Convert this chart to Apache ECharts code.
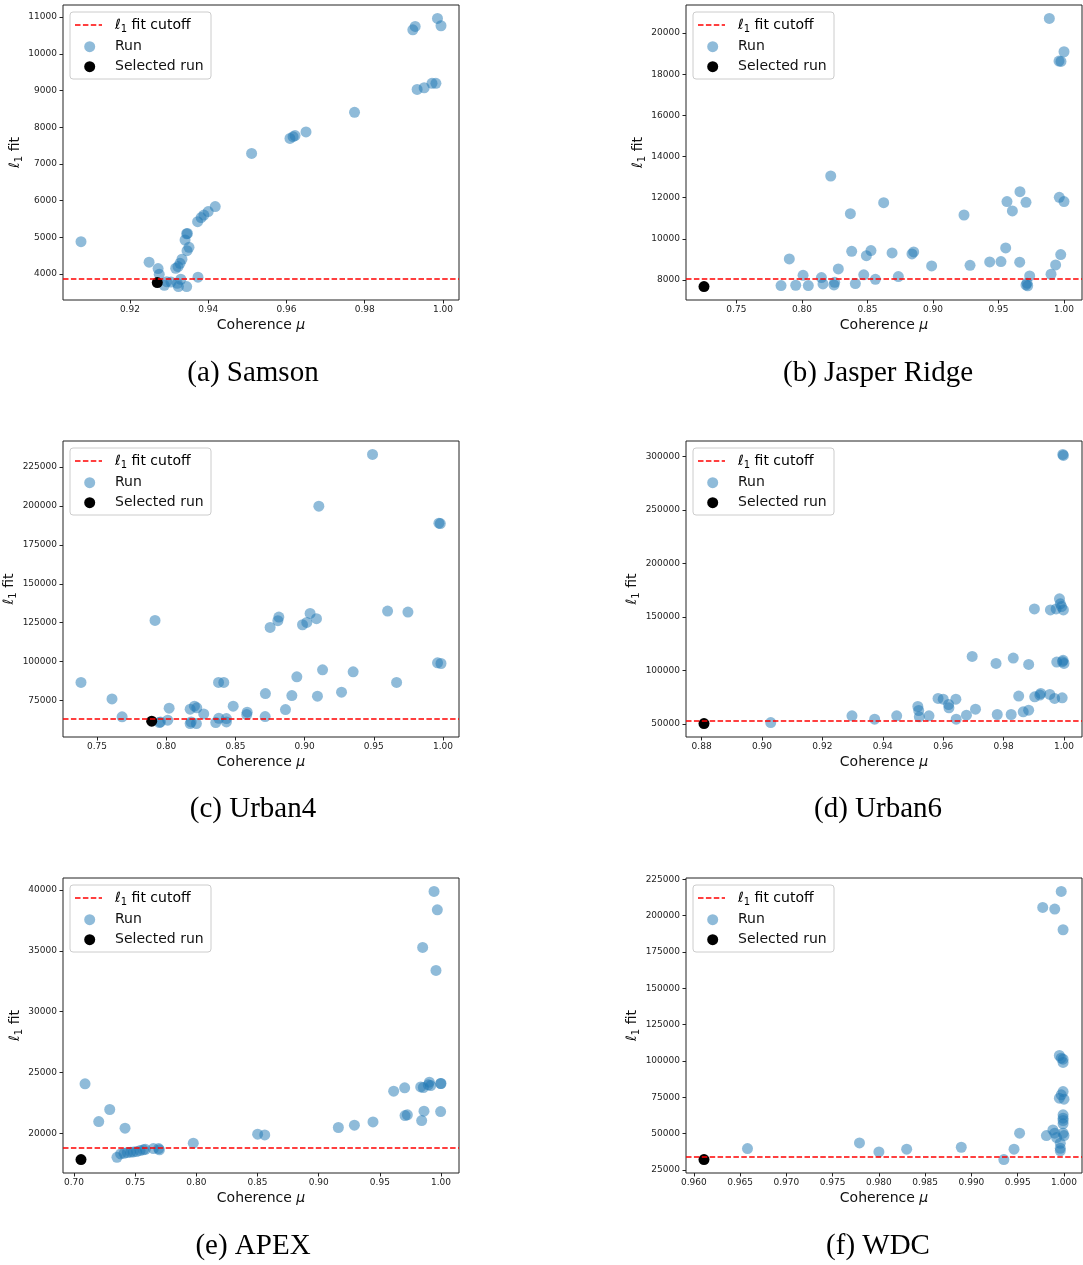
<!DOCTYPE html>
<html><head><meta charset="utf-8">
<script src="https://cdn.jsdelivr.net/npm/echarts@6/dist/echarts.min.js"></script>
<style>html,body{margin:0;padding:0;background:#fff}#c{width:1083px;height:1265px}</style>
</head><body><div id="c"></div>
<script>
// ---------------- DATA ----------------
const panelTitles = ['(a) Samson', '(b) Jasper Ridge', '(c) Urban4', '(d) Urban6', '(e) APEX', '(f) WDC'];

const samsonCoherence = [0.9075,0.9249,0.9272,0.9275,0.9288,0.9294,0.9305,0.9321,0.9324,0.9330,0.9345,0.9374,0.9317,0.9323,0.9328,0.9333,0.9341,0.9347,0.9345,0.9346,0.9351,0.9373,0.9382,0.9389,0.9400,0.9418,0.9511,0.9609,0.9617,0.9622,0.9650,0.9774,0.9923,0.9929,0.9934,0.9952,0.9972,0.9982,0.9986,0.9995];
const samsonFit = [4880,4320,4145,3990,3690,3790,3780,3745,3655,3855,3655,3910,4155,4200,4290,4400,4925,5105,5095,4635,4725,5425,5535,5605,5700,5835,7285,7695,7740,7770,7870,8405,10655,10745,9030,9075,9195,9195,10965,10765];
const samsonSelected = [0.9270, 3765];
const samsonCutoff = 3860;
const samsonXTicks = [0.92,0.94,0.96,0.98,1.00];
const samsonYTicks = [4000,5000,6000,7000,8000,9000,10000,11000];

const jasperCoherence = [0.7841,0.7904,0.7953,0.8009,0.8049,0.8149,0.8161,0.8220,0.8245,0.8250,0.8278,0.8370,0.8380,0.8408,0.8472,0.8492,0.8527,0.8561,0.8624,0.8688,0.8736,0.8840,0.8853,0.8990,0.9237,0.9283,0.9433,0.9519,0.9555,0.9565,0.9606,0.9664,0.9662,0.9710,0.9710,0.9723,0.9718,0.9738,0.9888,0.9901,0.9936,0.9962,0.9977,0.9964,0.9975,1.0000,1.0000];
const jasperFit = [7725,9020,7740,8225,7725,8115,7805,13050,7755,7885,8535,11220,9390,7820,8245,9180,9425,8030,11755,9310,8160,9265,9360,8680,11155,8710,8875,8890,9555,11805,11350,12290,8860,11770,7755,7710,7840,8195,20710,8275,8730,18635,18620,12015,9230,19090,11805];
const jasperSelected = [0.7253, 7675];
const jasperCutoff = 8080;
const jasperXTicks = [0.75,0.80,0.85,0.90,0.95,1.00];
const jasperYTicks = [8000,10000,12000,14000,16000,18000,20000];

const urban4Coherence = [0.7384,0.7608,0.7681,0.7919,0.7951,0.7958,0.8011,0.8021,0.8173,0.8180,0.8173,0.8204,0.8221,0.8218,0.8271,0.8358,0.8380,0.8378,0.8416,0.8435,0.8435,0.8484,0.8582,0.8585,0.8717,0.8715,0.8751,0.8807,0.8814,0.8862,0.8908,0.8944,0.8985,0.9016,0.9040,0.9086,0.9093,0.9103,0.9130,0.9267,0.9351,0.9491,0.9600,0.9665,0.9747,0.9961,0.9986,0.9971,0.9981];
const urban4Fit = [86600,76050,64500,126500,60850,61250,62350,70050,60200,61250,69400,71350,70300,60200,66400,60850,63600,86600,86600,61250,63400,71350,66000,67500,79500,64700,122000,126300,128650,69200,78200,90250,123700,125200,131000,127600,77800,199900,94750,80350,93450,233150,132500,86600,131850,99250,98800,188950,188750];
const urban4Selected = [0.7895, 61700];
const urban4Cutoff = 63200;
const urban4XTicks = [0.75,0.80,0.85,0.90,0.95,1.00];
const urban4YTicks = [75000,100000,125000,150000,175000,200000,225000];

const urban6Coherence = [0.9029,0.9298,0.9373,0.9446,0.9516,0.9519,0.9521,0.9553,0.9583,0.9600,0.9618,0.9619,0.9642,0.9643,0.9677,0.9696,0.9707,0.9775,0.9779,0.9825,0.9832,0.9850,0.9865,0.9883,0.9883,0.9902,0.9903,0.9920,0.9923,0.9953,0.9955,0.9969,0.9974,0.9976,0.9985,0.9988,0.9992,0.9994,0.9995,0.9997,0.9998,0.9996,0.9998,1.0000];
const urban6Fit = [51250,57500,54400,57500,66250,62500,56550,57500,73750,73100,68100,65000,73100,54400,58100,113100,63750,106550,58750,58750,111550,75950,61250,105600,62800,157500,75300,76900,78450,77500,156550,73750,157500,107800,166900,162200,159700,74400,108100,109400,156550,301900,300950,106550];
const urban6Selected = [0.8808, 50300];
const urban6Cutoff = 52800;
const urban6XTicks = [0.88,0.90,0.92,0.94,0.96,0.98,1.00];
const urban6YTicks = [50000,100000,150000,200000,250000,300000];

const apexCoherence = [0.7090,0.7202,0.7292,0.7351,0.7417,0.7381,0.7409,0.7436,0.7463,0.7485,0.7512,0.7540,0.7567,0.7583,0.7649,0.7692,0.7698,0.7975,0.8501,0.8559,0.9161,0.9292,0.9444,0.9613,0.9703,0.9706,0.9725,0.9834,0.9856,0.9842,0.9861,0.9905,0.9896,0.9916,0.9850,0.9943,0.9970,0.9959,0.9997,1.0000,0.9997];
const apexFit = [24060,20960,21950,18020,20410,18300,18350,18410,18440,18460,18490,18570,18630,18680,18740,18740,18630,19180,19920,19860,20470,20660,20930,23460,23730,21450,21510,23810,23760,21040,21810,24200,23980,23920,35280,39890,38380,33390,24090,24090,21780];
const apexSelected = [0.7057, 17830];
const apexCutoff = 18770;
const apexXTicks = [0.70,0.75,0.80,0.85,0.90,0.95,1.00];
const apexYTicks = [20000,25000,30000,35000,40000];

const wdcCoherence = [0.9658,0.9779,0.9800,0.9830,0.9889,0.9935,0.9946,0.9952,0.9977,0.9990,0.9997,0.9999,0.9981,0.9988,0.9990,0.9992,0.9995,0.9997,0.9999,0.9999,0.9995,0.9997,0.9999,1.0000,0.9999,0.9999,0.9999,0.9999,0.9999,1.0000,0.9996,0.9996,0.9996];
const wdcFit = [39700,43600,37400,39250,40600,32100,39250,50250,205700,204550,216700,190300,48650,52550,50250,47250,103750,101900,101250,98950,74350,76650,78950,73700,62900,60600,59000,56700,50250,48650,43350,39900,38100];
const wdcSelected = [0.9611, 32100];
const wdcCutoff = 34200;
const wdcXTicks = [0.960,0.965,0.970,0.975,0.980,0.985,0.990,0.995,1.000];
const wdcYTicks = [25000,50000,75000,100000,125000,150000,175000,200000,225000];

// ---------------- LAYOUT / STYLE ----------------
const colLeft = [63, 686];
const rowTop = [5, 441, 878];
const gridW = 396, gridH = 295;
const captionX = [253, 878];
const captionY = [373, 809, 1246];
const yNameGaps = [40, 39, 44, 45, 39, 45];
const xDecimals = [2, 2, 2, 2, 2, 3];

const datasets = [
  [samsonCoherence, samsonFit, samsonSelected, samsonCutoff, samsonXTicks, samsonYTicks],
  [jasperCoherence, jasperFit, jasperSelected, jasperCutoff, jasperXTicks, jasperYTicks],
  [urban4Coherence, urban4Fit, urban4Selected, urban4Cutoff, urban4XTicks, urban4YTicks],
  [urban6Coherence, urban6Fit, urban6Selected, urban6Cutoff, urban6XTicks, urban6YTicks],
  [apexCoherence, apexFit, apexSelected, apexCutoff, apexXTicks, apexYTicks],
  [wdcCoherence, wdcFit, wdcSelected, wdcCutoff, wdcXTicks, wdcYTicks]
];

const BLUE = '#1f77b4';
const FONT = 'DejaVu Sans';
const TXT = '#111';
// rich styles for the "ℓ1" math label (ℓ italic, subscript 1)
const ellRich = {
  l: {fontSize: 14, fontFamily: FONT, fontStyle: 'italic', color: TXT, lineHeight: 18},
  s: {fontSize: 10, fontFamily: FONT, color: TXT, verticalAlign: 'bottom', lineHeight: 18},
  t: {fontSize: 14, fontFamily: FONT, color: TXT, lineHeight: 18}
};
const ellText = rest => '{l|ℓ}{s|1}{t|' + rest + '}';

const grids = [], xAxes = [], yAxes = [], series = [], graphics = [];

datasets.forEach((d, i) => {
  const [coh, fit, sel, cut, xt, yt] = d;
  const col = i % 2, row = Math.floor(i / 2);
  const gl = colLeft[col], gt = rowTop[row];
  const gh = row === 1 ? gridH + 1 : gridH;
  grids.push({left: gl, top: gt, width: gridW, height: gh, show: true,
    borderColor: '#222', borderWidth: 1, backgroundColor: 'transparent'});
  const xs = coh.concat([sel[0]]), ys = fit.concat([sel[1]]);
  const xmn = Math.min(...xs), xmx = Math.max(...xs);
  const ymn = Math.min(...ys), ymx = Math.max(...ys);
  const xp = 0.05 * (xmx - xmn), yp = 0.05 * (ymx - ymn);
  const dec = xDecimals[i];
  xAxes.push({type: 'value', gridIndex: i, min: xmn - xp, max: xmx + xp,
    axisLine: {show: false}, splitLine: {show: false},
    axisTick: {show: true, length: 3.5, customValues: xt, lineStyle: {color: '#222', width: 1}},
    axisLabel: {show: true, customValues: xt, margin: 5, fontSize: 9, color: '#222', fontFamily: FONT,
      formatter: v => v.toFixed(dec)},
    name: '{a|Coherence }{b|μ}', nameLocation: 'middle', nameGap: 18,
    nameTextStyle: {rich: {a: {fontSize: 14, fontFamily: FONT, color: TXT},
                           b: {fontSize: 14, fontFamily: FONT, fontStyle: 'italic', color: TXT}}}
  });
  yAxes.push({type: 'value', gridIndex: i, min: ymn - yp, max: ymx + yp,
    axisLine: {show: false}, splitLine: {show: false},
    axisTick: {show: true, length: 3.5, customValues: yt, lineStyle: {color: '#222', width: 1}},
    axisLabel: {show: true, customValues: yt, margin: 6, fontSize: 9, color: '#222', fontFamily: FONT,
      formatter: v => String(Math.round(v))},
    name: ellText(' fit'), nameLocation: 'middle', nameGap: yNameGaps[i] - 2,
    nameTextStyle: {rich: ellRich}
  });
  series.push({type: 'scatter', name: 'Run', xAxisIndex: i, yAxisIndex: i,
    data: coh.map((c, k) => [c, fit[k]]), symbolSize: 11,
    itemStyle: {color: BLUE, opacity: 0.5}, z: 2, silent: true});
  series.push({type: 'scatter', name: 'Selected run', xAxisIndex: i, yAxisIndex: i,
    data: [sel], symbolSize: 11, itemStyle: {color: '#000', opacity: 1}, z: 3, silent: true,
    markLine: {silent: true, symbol: ['none', 'none'], label: {show: false},
      lineStyle: {color: '#ff0000', width: 1.5, type: [5.5, 2.4]},
      emphasis: {disabled: true}, data: [{yAxis: cut}]}});

  // legend (drawn as graphics)
  const lx = gl + 7, ly = gt + 7;
  graphics.push({type: 'rect', shape: {x: lx, y: ly, width: 141, height: 67, r: 3},
    style: {fill: 'rgba(255,255,255,0.8)', stroke: '#cccccc', lineWidth: 1}, z: 100});
  graphics.push({type: 'line', shape: {x1: gl + 12, y1: gt + 20, x2: gl + 39, y2: gt + 20},
    style: {stroke: '#ff0000', lineWidth: 1.5, lineDash: [5.5, 2.4]}, z: 101});
  graphics.push({type: 'circle', shape: {cx: gl + 26.7, cy: gt + 41.7, r: 5.5},
    style: {fill: BLUE, opacity: 0.5}, z: 101});
  graphics.push({type: 'circle', shape: {cx: gl + 26.7, cy: gt + 61.7, r: 5.5},
    style: {fill: '#000'}, z: 101});
  graphics.push({type: 'text', x: gl + 52, y: gt + 20, z: 101,
    style: {text: ellText(' fit cutoff'), rich: ellRich, verticalAlign: 'middle', align: 'left'}});
  [['Run', 41.7], ['Selected run', 61.7]].forEach(([t, dy]) => {
    graphics.push({type: 'text', x: gl + 52, y: gt + dy, z: 101,
      style: {text: t, fontSize: 14, fontFamily: FONT, fill: TXT, verticalAlign: 'middle', align: 'left'}});
  });
  // caption
  graphics.push({type: 'text', x: captionX[col], y: captionY[row], z: 101,
    style: {text: panelTitles[i], fontSize: 29, fontFamily: 'Liberation Serif', fill: '#000',
      align: 'center', verticalAlign: 'middle'}});
});

const chart = echarts.init(document.getElementById('c'), null, {renderer: 'canvas'});
chart.setOption({animation: false, backgroundColor: '#fff',
  grid: grids, xAxis: xAxes, yAxis: yAxes, series: series, graphic: graphics});
</script></body></html>
